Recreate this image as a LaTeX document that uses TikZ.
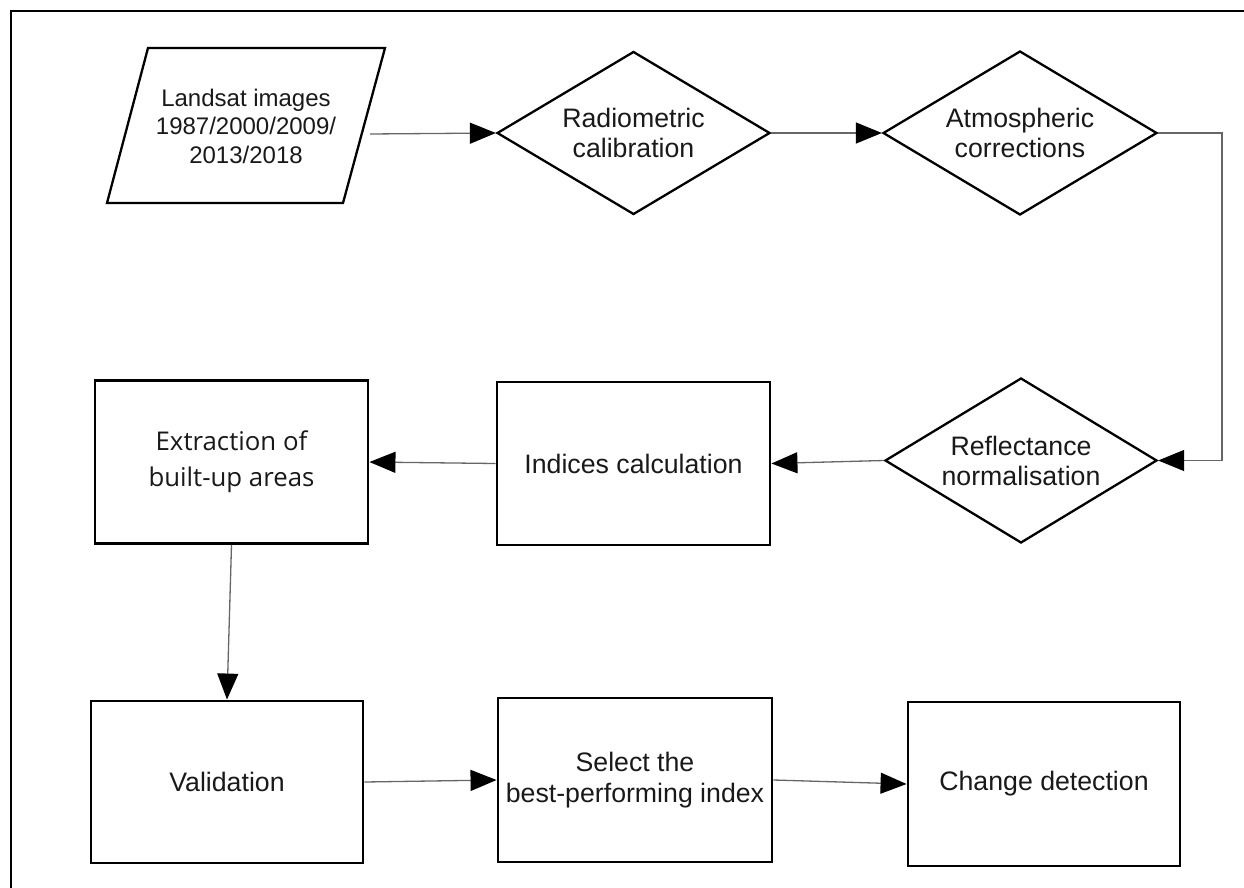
\documentclass[tikz,border=0pt]{standalone}
\usepackage{fontspec}
\setmainfont{Liberation Sans}
\newfontfamily\extrfont{Open Sans}
\usetikzlibrary{arrows.meta,shapes.geometric}
\begin{document}
\begin{tikzpicture}[x=1pt,y=-1pt,
  box/.style={draw=black, line width=2.9pt, rectangle, inner sep=0pt, align=center,
    text=black!90, font=\fontsize{26.7}{31}\selectfont},
  dia/.style={draw=black, line width=2.3pt, diamond, aspect=1.665, inner sep=0pt, align=center,
    text=black!90, font=\fontsize{26.7}{30}\selectfont},
  conn/.style={draw=black!60, line width=1.3pt,
    -{Triangle[length=26pt,width=21pt,color=black]}},
  frameline/.style={draw=black, line width=2pt},
]
\useasboundingbox (0,0) rectangle (1244,888);
% outer frame (left and top edges visible)
\draw[frameline] (10.5,888) -- (10.5,11) -- (1244,11);

% input parallelogram
\coordinate (p1) at (148,48);
\coordinate (p2) at (385,48);
\coordinate (p3) at (343,203);
\coordinate (p4) at (107,203);
\draw[line width=2.3pt, line join=miter] (p1) -- (p2) -- (p3) -- (p4) -- cycle;
\node[align=center, text=black!90, font=\fontsize{24}{28.5}\selectfont] (landsat) at (246,126)
  {Landsat images\\1987/2000/2009/\\2013/2018};
\coordinate (lsout) at (370,134);

% diamonds
\node[dia, minimum width=273pt, minimum height=163pt] (radio) at (633.5,133) {Radiometric\\calibration};
\node[dia, minimum width=274pt, minimum height=164pt] (atm) at (1020,133) {Atmospheric\\corrections};
\node[dia, minimum width=272pt, minimum height=165pt] (refl) at (1021,460.5) {Reflectance\\normalisation};

% boxes
\node[box, minimum width=273pt, minimum height=163pt] (indices) at (633.5,463.5) {Indices calculation};
\node[box, minimum width=273pt, minimum height=163pt, font=\extrfont\fontsize{25.8}{36}\selectfont] (extr) at (231.5,462) {Extraction of\\built-up areas};
\node[box, minimum width=272pt, minimum height=162pt] (valid) at (227,782) {Validation};
\node[box, minimum width=274pt, minimum height=164pt] (select) at (635,780) {Select the\\best-performing index};
\node[box, minimum width=272pt, minimum height=164pt] (change) at (1044,784) {Change detection};

% connectors
\coordinate (rx) at (1222,0);
\draw[conn] (lsout) -- (radio.west);
\draw[conn] (radio.east) -- (atm.west);
\draw[conn] (atm.east) -- (atm.east -| rx) |- (refl.east);
\draw[conn] (refl.west) -- (indices.east);
\draw[conn] (indices.west) -- (extr.east);
\draw[conn] (extr.south) -- (valid.north);
\draw[conn] (valid.east) -- (select.west);
\draw[conn] (select.east) -- (change.west);
\end{tikzpicture}
\end{document}
